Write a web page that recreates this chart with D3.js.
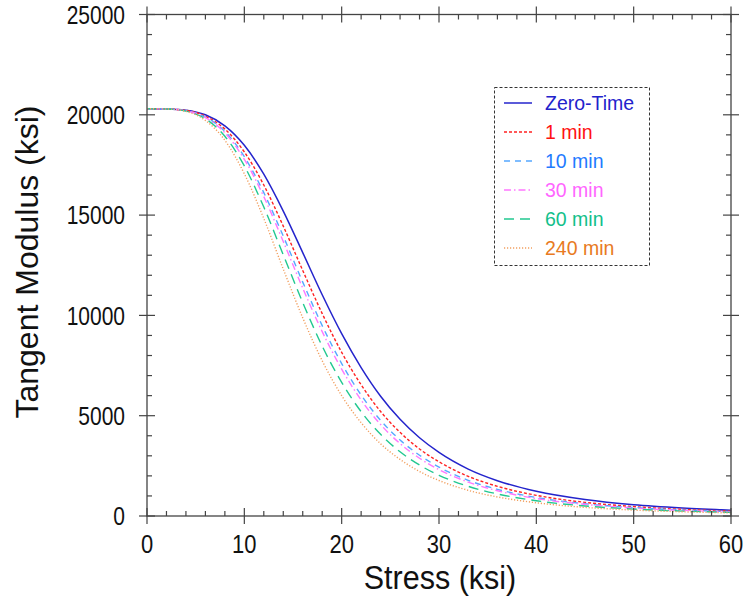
<!DOCTYPE html>
<html>
<head>
<meta charset="utf-8">
<script src="https://cdn.jsdelivr.net/npm/d3@7"></script>
<style>
  body { margin: 0; background: #fff; }
  svg { display: block; font-family: "Liberation Sans", Arial, sans-serif; }
</style>
</head>
<body>
<div id="chart"></div>
<script>
// stress values (ksi) where the curves were read
const stress = [0, 2, 4, 6, 8, 10, 12, 14, 16, 18, 20, 22, 24, 26, 28, 30, 33, 36, 40, 45, 50, 55, 60];

// tangent modulus (ksi) for each exposure time
const zeroTime = [20300, 20290, 20230, 20000, 19450, 18480, 17040, 15200, 13130, 11030, 9090, 7400, 5970, 4820, 3900, 3170, 2340, 1760, 1230, 820, 560, 400, 290];
const min1 = [20300, 20290, 20220, 19930, 19290, 18150, 16500, 14450, 12240, 10090, 8160, 6540, 5210, 4170, 3340, 2700, 1980, 1480, 1030, 680, 470, 330, 245];
const min10 = [20300, 20290, 20200, 19890, 19170, 17910, 16120, 13950, 11660, 9490, 7600, 6030, 4770, 3790, 3030, 2440, 1780, 1330, 920, 610, 420, 300, 220];
const min30 = [20300, 20290, 20200, 19860, 19100, 17780, 15920, 13680, 11360, 9190, 7320, 5780, 4560, 3610, 2880, 2310, 1690, 1260, 870, 580, 395, 280, 205];
const min60 = [20300, 20290, 20180, 19800, 18930, 17450, 15400, 13020, 10640, 8470, 6660, 5200, 4070, 3200, 2540, 2030, 1480, 1100, 760, 500, 345, 245, 180];
const min240 = [20300, 20290, 20170, 19720, 18730, 17060, 14830, 12310, 9880, 7740, 6000, 4650, 3600, 2820, 2220, 1770, 1280, 950, 660, 430, 295, 210, 155];

const seriesNames = ["Zero-Time", "1 min", "10 min", "30 min", "60 min", "240 min"];
const seriesValues = [zeroTime, min1, min10, min30, min60, min240];

const xTicks = [0, 10, 20, 30, 40, 50, 60];
const yTicks = [0, 5000, 10000, 15000, 20000, 25000];

const lineColors = ["#2424cc", "#ff2222", "#55a8ff", "#ff77ff", "#22c890", "#f2a060"];
const textColors = ["#2222cc", "#ff1111", "#1f7bff", "#ff66ff", "#12c08a", "#e87a22"];
const dashes = [null, "3,2", "6,5", "7,3,1.5,3", "10,6", "1.2,1.8"];

const width = 745, height = 599;
const margin = { top: 14.5, right: 14, bottom: 83, left: 147 };

const svg = d3.select("#chart").append("svg")
    .attr("width", width)
    .attr("height", height);

const x = d3.scaleLinear().domain([0, 60]).range([margin.left, width - margin.right]);
const y = d3.scaleLinear().domain([0, 25000]).range([height - margin.bottom, margin.top]);

// curves
const line = d3.line()
    .x((d, i) => x(stress[i]))
    .y(d => y(d))
    .curve(d3.curveMonotoneX);

svg.append("g")
    .selectAll("path")
    .data(seriesValues)
    .join("path")
    .attr("fill", "none")
    .attr("stroke", (d, i) => lineColors[i])
    .attr("stroke-width", (d, i) => i == 0 ? 1.5 : 1.4)
    .attr("stroke-dasharray", (d, i) => dashes[i])
    .attr("d", line);

// frame with ticks crossing the axis lines
const axisColor = "#444";
const x0 = x(0), x1 = x(60), y0 = y(0), y1 = y(25000);

svg.append("rect")
    .attr("x", x0).attr("y", y1)
    .attr("width", x1 - x0).attr("height", y0 - y1)
    .attr("fill", "none")
    .attr("stroke", axisColor)
    .attr("stroke-width", 1.3);

const xMinor = d3.range(0, 61, 2).filter(v => v % 10 != 0);
const yMinor = d3.range(0, 25001, 1000).filter(v => v % 5000 != 0);

const ticks = svg.append("g").attr("stroke", axisColor).attr("stroke-width", 1.2);

// bottom & top
[[y0, -1], [y1, 1]].forEach(([yy, dir]) => {
    ticks.selectAll(null).data(xTicks).join("line")
        .attr("x1", d => x(d)).attr("x2", d => x(d))
        .attr("y1", yy - 8).attr("y2", yy + 8);
    ticks.selectAll(null).data(xMinor).join("line")
        .attr("x1", d => x(d)).attr("x2", d => x(d))
        .attr("y1", yy).attr("y2", yy + dir * 5);
});
// left & right
[[x0, 1], [x1, -1]].forEach(([xx, dir]) => {
    ticks.selectAll(null).data(yTicks).join("line")
        .attr("y1", d => y(d)).attr("y2", d => y(d))
        .attr("x1", xx - 8).attr("x2", xx + 8);
    ticks.selectAll(null).data(yMinor).join("line")
        .attr("y1", d => y(d)).attr("y2", d => y(d))
        .attr("x1", xx).attr("x2", xx + dir * 5);
});

// tick labels (the original lettering is a bit taller than wide)
svg.append("g")
    .selectAll("text")
    .data(xTicks)
    .join("text")
    .attr("transform", d => `translate(${x(d)}, ${y0 + 37}) scale(1, 1.2)`)
    .attr("text-anchor", "middle")
    .attr("font-size", 22)
    .attr("fill", "#111")
    .text(d => d);

svg.append("g")
    .selectAll("text")
    .data(yTicks)
    .join("text")
    .attr("transform", d => `translate(${x0 - 22}, ${y(d)}) scale(1, 1.22)`)
    .attr("dy", "0.36em")
    .attr("text-anchor", "end")
    .attr("font-size", 21)
    .attr("fill", "#111")
    .text(d => d);

// axis titles
svg.append("text")
    .attr("transform", `translate(${(x0 + x1) / 2 + 1}, 589) scale(1, 1.08)`)
    .attr("text-anchor", "middle")
    .attr("font-size", 30.5)
    .attr("fill", "#111")
    .text("Stress (ksi)");

svg.append("text")
    .attr("transform", `translate(38, 262) rotate(-90)`)
    .attr("text-anchor", "middle")
    .attr("font-size", 32)
    .attr("fill", "#111")
    .text("Tangent Modulus (ksi)");

// legend
const legend = svg.append("g");
legend.append("rect")
    .attr("x", 494.5).attr("y", 87.5)
    .attr("width", 155).attr("height", 178)
    .attr("fill", "#fff")
    .attr("stroke", "#333")
    .attr("stroke-width", 1)
    .attr("stroke-dasharray", "3,2");

const rows = legend.selectAll("g.row")
    .data(seriesNames)
    .join("g")
    .attr("class", "row")
    .attr("transform", (d, i) => `translate(0, ${103 + i * 29})`);

rows.append("line")
    .attr("x1", 504).attr("x2", 532)
    .attr("stroke", (d, i) => lineColors[i])
    .attr("stroke-width", 1.5)
    .attr("stroke-dasharray", (d, i) => dashes[i]);

rows.append("text")
    .attr("x", 545)
    .attr("dy", "0.36em")
    .attr("font-size", 19.5)
    .attr("fill", (d, i) => textColors[i])
    .text(d => d);
</script>
</body>
</html>
